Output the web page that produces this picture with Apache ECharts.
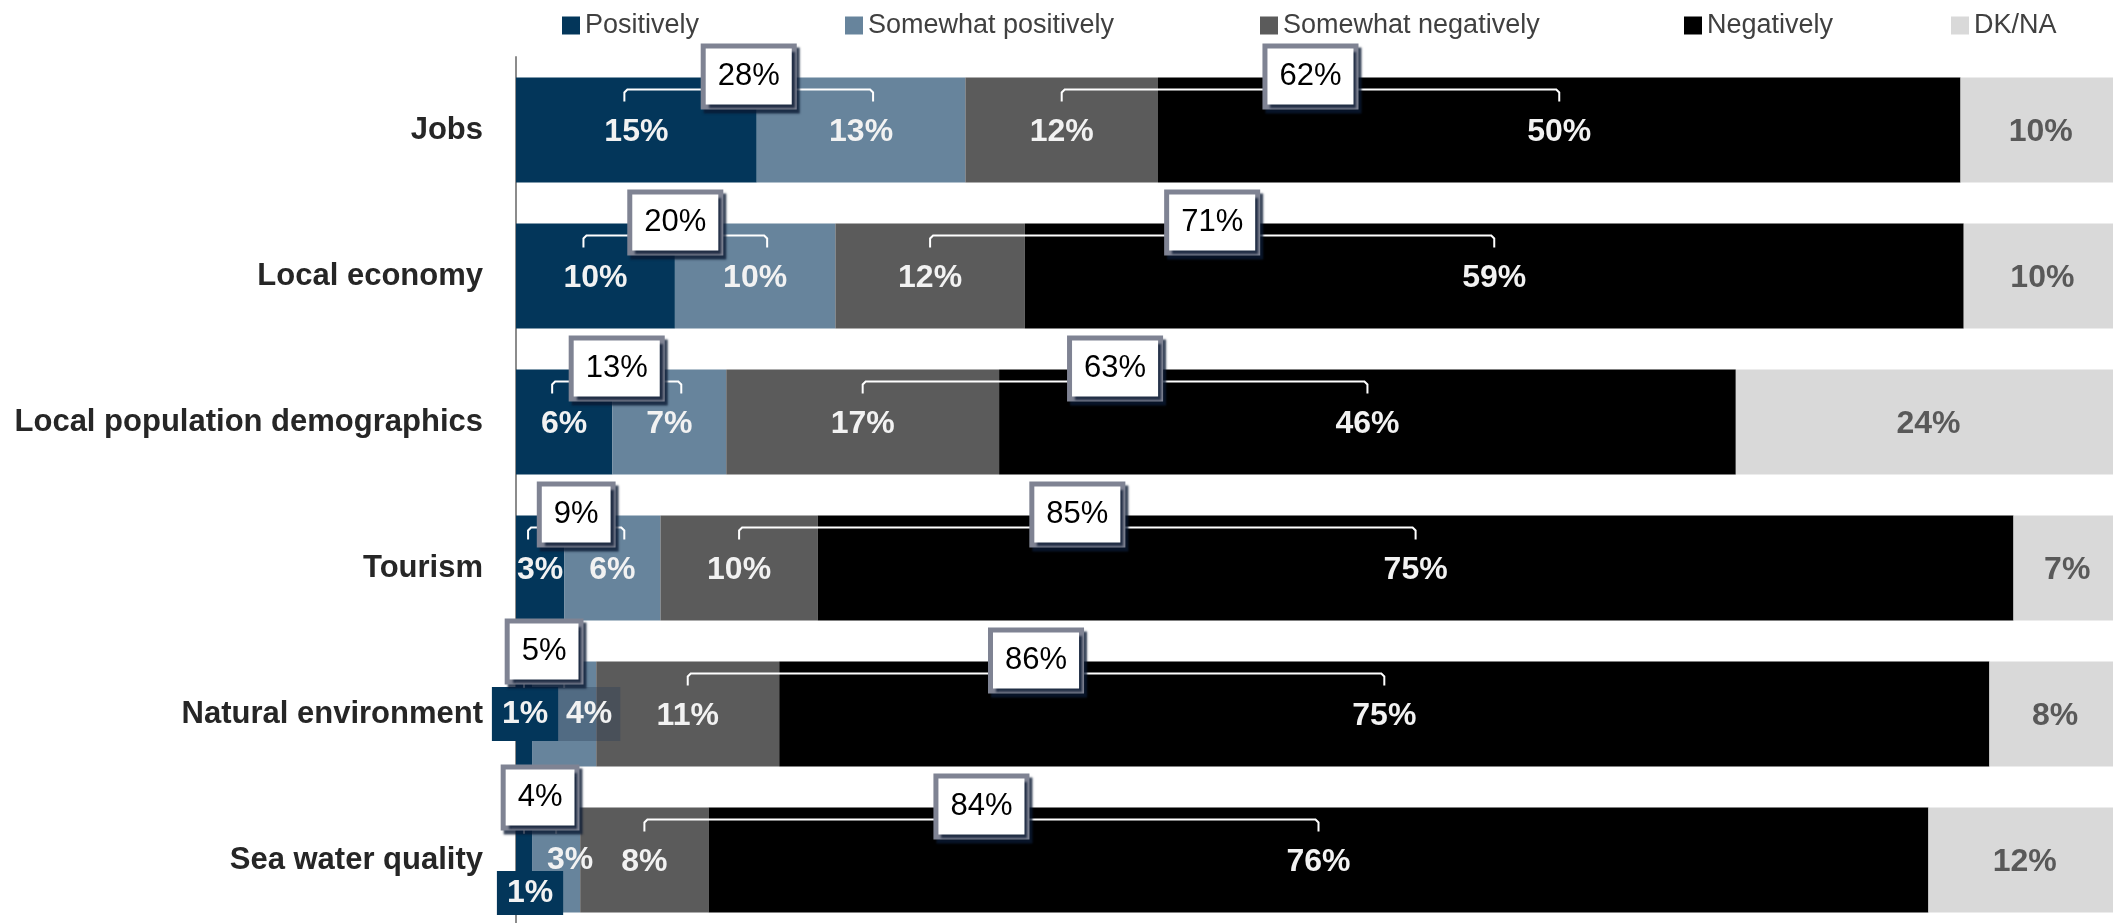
<!DOCTYPE html>
<html><head><meta charset="utf-8">
<script src="https://cdn.jsdelivr.net/npm/echarts@6/dist/echarts.min.js"></script>
<style>html,body{margin:0;padding:0;background:#fff}#c{width:2113px;height:923px}</style>
</head><body><div id="c"></div>
<script>
const categories = ['Jobs','Local economy','Local population demographics','Tourism','Natural environment','Sea water quality'];
const seriesNames = ['Positively','Somewhat positively','Somewhat negatively','Negatively','DK/NA'];
const positively = [15.0, 9.9, 6.0, 3.0, 1.0, 1.0];
const somewhatPositively = [13.0, 10.0, 7.1, 6.0, 4.0, 3.0];
const somewhatNegatively = [12.0, 11.8, 17.0, 9.8, 11.4, 8.0];
const negatively = [50.0, 58.5, 45.9, 74.5, 75.4, 76.0];
const dkna = [10.0, 9.8, 24.0, 6.7, 8.2, 12.0];
const positiveTotals = [28, 20, 13, 9, 5, 4];
const negativeTotals = [62, 71, 63, 85, 86, 84];

const FONT = '"Liberation Sans", Arial, sans-serif';
const colors = ['#03365a','#67849c','#5b5b5b','#000000','#d9d9d9'];
const values = [positively, somewhatPositively, somewhatNegatively, negatively, dkna];
const BAR_RATIO = 0.72;

// per-item label tweaks (small segments in the bottom rows)
const labelOverrides = {
  0: {4: {backgroundColor:'#03365a', padding:[10,10], offset:[1,0]},
      5: {backgroundColor:'#03365a', padding:[5,10], offset:[6,33]}},
  1: {4: {backgroundColor:'rgba(40,60,85,0.35)', padding:[10,8], offset:[25,0]},
      5: {offset:[14,0]}}
};

function makeData(arr, s){
  return arr.map((v,i)=>{
    const item = {value: v};
    const o = labelOverrides[s] && labelOverrides[s][i];
    if (o) item.label = o;
    return item;
  });
}

const barSeries = seriesNames.map((name, s)=>({
  name, type:'bar', stack:'all', barWidth: (BAR_RATIO*100)+'%',
  itemStyle:{color: colors[s]},
  label:{show:true, position:'inside', offset:[0,2], formatter: p => Math.round(p.value) + '%',
    color: s === 4 ? '#595959' : '#f2f2f2', fontSize:32, fontWeight:'bold', fontFamily:FONT,
    textBorderWidth:0, lineHeight:34},
  emphasis:{disabled:true},
  data: makeData(values[s], s)
}));

function bracket(api, x1v, x2v, i, barTop, total, ext, children){
  let x1 = api.coord([x1v, i])[0], x2 = api.coord([x2v, i])[0];
  const narrow = (x2 - x1) < 60;
  if (!narrow){ x1 -= ext; x2 += ext; }
  const by = barTop + (narrow ? 13 : 12);
  const tick = narrow ? 13 : 12;
  const mx = (x1 + x2)/2;
  children.push({type:'polyline', shape:{points:[[x1,by+tick],[x1,by+3],[x1+3,by],[x2-3,by],[x2,by+3],[x2,by+tick]]},
    style:{stroke:'#ffffff', lineWidth:2, fill:null}, z2:1});
  children.push({type:'text', x: mx, y: narrow ? barTop - 10 : barTop - 1, z2:2,
    style:{text: total + '%', fill:'#000', fontSize:31, fontFamily:FONT, lineHeight:32,
      align:'center', verticalAlign:'middle', backgroundColor:'#ffffff',
      borderColor:'#7f8393', borderWidth:5, padding:[12,12],
      shadowColor:'rgba(10,25,50,0.8)', shadowOffsetX:3, shadowOffsetY:4, shadowBlur:2}});
}

const annotSeries = {
  type:'custom', name:'annot', z:10, silent:true,
  coordinateSystem:'cartesian2d', encode:{x:0, y:1},
  data: categories.map((c,i)=>[0,i]),
  renderItem: function(params, api){
    const i = params.dataIndex;
    const cy = api.coord([0, i])[1];
    const bandH = api.size([0,1])[1];
    const barTop = cy - bandH*BAR_RATIO/2;
    const p = positively[i], sp = somewhatPositively[i], sn = somewhatNegatively[i], n = negatively[i];
    const children = [];
    bracket(api, p/2, p + sp/2, i, barTop, positiveTotals[i], 12, children);
    bracket(api, p + sp + sn/2, p + sp + sn + n/2, i, barTop, negativeTotals[i], 0, children);
    return {type:'group', children};
  }
};

const legendLefts = [557, 840, 1255, 1679, 1946];

const chart = echarts.init(document.getElementById('c'), null, {renderer:'canvas'});
chart.setOption({
  animation:false,
  backgroundColor:'#ffffff',
  legend: seriesNames.map((nm,k)=>({data:[nm], left: legendLefts[k], top:7, icon:'rect',
    itemWidth:18, itemHeight:18, selectedMode:false,
    textStyle:{fontSize:27, color:'#404040', fontFamily:FONT}})),
  grid:{left:516, right:-8, top:57, bottom:-10, containLabel:false, outerBoundsMode:'none'},
  xAxis:{type:'value', min:0, max:100, show:false},
  yAxis:{type:'category', data:categories, inverse:true,
    axisLine:{show:true, lineStyle:{color:'#8c8c8c', width:2}},
    axisTick:{show:false}, splitLine:{show:false},
    axisLabel:{fontSize:31, fontWeight:'bold', color:'#262626', fontFamily:FONT, margin:33}},
  series: barSeries.concat([annotSeries])
});
</script></body></html>
